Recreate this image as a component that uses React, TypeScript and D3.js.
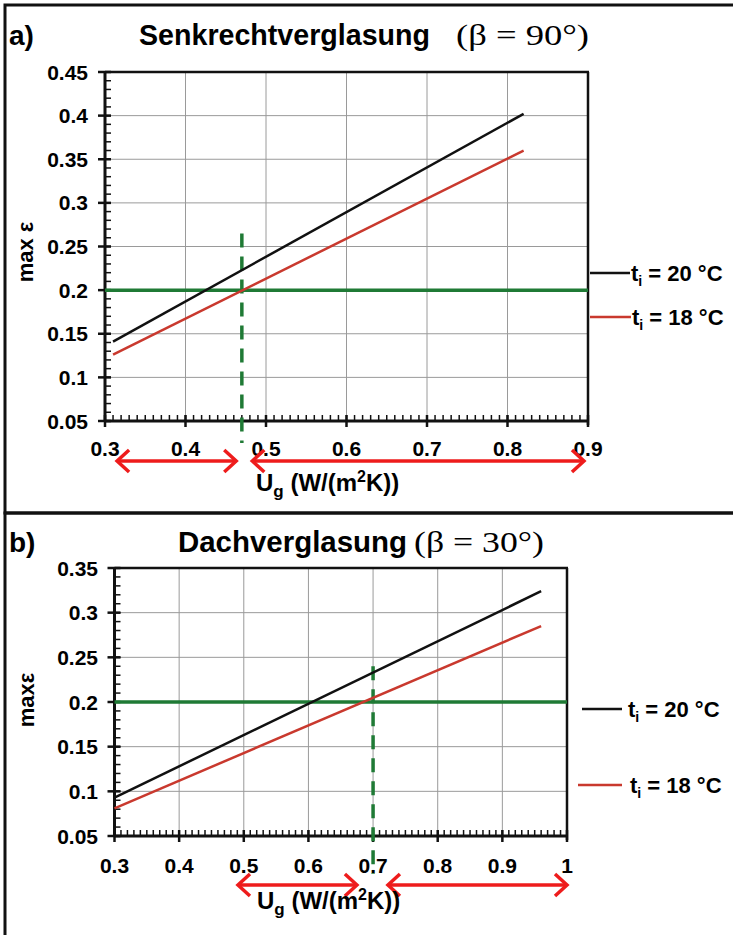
import * as d3 from 'd3'

// panel a) Senkrechtverglasung
const xTicksA = [0.3, 0.4, 0.5, 0.6, 0.7, 0.8, 0.9]
const yTicksA = [0.05, 0.1, 0.15, 0.2, 0.25, 0.3, 0.35, 0.4, 0.45]
const ti20A: [number, number][] = [[0.31, 0.141], [0.82, 0.402]]
const ti18A: [number, number][] = [[0.31, 0.126], [0.82, 0.36]]
const limitA = 0.2
const markerA = { x: 0.47, yTop: 0.265 }
const arrowsA: [number, number][] = [[0.315, 0.463], [0.483, 0.895]]

// panel b) Dachverglasung
const xTicksB = [0.3, 0.4, 0.5, 0.6, 0.7, 0.8, 0.9, 1]
const yTicksB = [0.05, 0.1, 0.15, 0.2, 0.25, 0.3, 0.35]
const ti20B: [number, number][] = [[0.3, 0.093], [0.96, 0.324]]
const ti18B: [number, number][] = [[0.3, 0.081], [0.96, 0.285]]
const limitB = 0.2
const markerB = { x: 0.7, yTop: 0.24 }
const arrowsB: [number, number][] = [[0.491, 0.675], [0.723, 1.0]]

const legendLabels = ['20', '18']

const FONT = '"Liberation Sans", Arial, sans-serif'
const SERIF = '"Liberation Serif", "Times New Roman", serif'
const RED = '#c9392e'
const GREEN = '#1f7a35'

type PanelProps = {
  top: number
  letter: string
  title: string
  titleLen: number
  beta: string
  betaLen: number
  titleX: number
  betaX: number
  xRange: [number, number]
  yRange: [number, number]
  xTicks: number[]
  yTicks: number[]
  black: [number, number][]
  red: [number, number][]
  limit: number
  marker: { x: number; yTop: number }
  markerBelow: number
  arrows: [number, number][]
  arrowY: number
  yLabel: string
  yLabelX: number
  yLabelY: number
  tickLabelRight: number
  xLabelBase: number
  xTitleX: number
  xTitleBase: number
  legend: { x1: number; x2: number; tx: number; y: number }[]
}

function Panel(p: PanelProps) {
  const xDom = [p.xTicks[0], p.xTicks[p.xTicks.length - 1]]
  const yDom = [p.yTicks[0], p.yTicks[p.yTicks.length - 1]]
  const x = d3.scaleLinear().domain(xDom).range(p.xRange)
  const y = d3.scaleLinear().domain(yDom).range(p.yRange)
  const line = d3.line<[number, number]>().x((d) => x(d[0])).y((d) => y(d[1]))
  const [x0, x1] = p.xRange
  const [y0, y1] = p.yRange
  const minorX = d3.range(Math.round(xDom[0] * 100), Math.round(xDom[1] * 100) + 1).map((v) => v / 100)
  const minorY = d3.range(Math.round(yDom[0] * 100), Math.round(yDom[1] * 100) + 1).map((v) => v / 100)

  const arrowHead = (ax: number, ay: number, dir: number) =>
    `M${ax - dir * 12},${ay - 11} L${ax},${ay} L${ax - dir * 12},${ay + 11}`

  return (
    <g>
      <text x={9} y={p.top + 41} fontFamily={FONT} fontWeight="bold" fontSize={28}>
        {p.letter}
      </text>
      <text x={p.titleX} y={p.top + 41} fontFamily={FONT} fontWeight="bold" fontSize={29}
        textLength={p.titleLen} lengthAdjust="spacingAndGlyphs">
        {p.title}
      </text>
      <text x={p.betaX} y={p.top + 41} fontFamily={SERIF} fontSize={29}
        textLength={p.betaLen} lengthAdjust="spacingAndGlyphs">
        {p.beta}
      </text>

      {/* grid */}
      {p.xTicks.slice(1, -1).map((t) => (
        <line key={'gx' + t} x1={x(t)} x2={x(t)} y1={y0} y2={y1} stroke="#9a9a9a" strokeWidth={1} />
      ))}
      {p.yTicks.slice(1, -1).map((t) => (
        <line key={'gy' + t} x1={x0} x2={x1} y1={y(t)} y2={y(t)} stroke="#9a9a9a" strokeWidth={1} />
      ))}

      {/* frame top / right */}
      <line x1={x0} x2={x1 + 1} y1={y1} y2={y1} stroke="#111" strokeWidth={2.5} />
      <line x1={x1} x2={x1} y1={y1} y2={y0 + 4} stroke="#111" strokeWidth={2.5} />

      {/* minor ticks */}
      {minorX.map((t) => (
        <line key={'mx' + t} x1={x(t)} x2={x(t)} y1={y0} y2={y0 - 6} stroke="#111" strokeWidth={1.5} />
      ))}
      {minorY.map((t) => (
        <line key={'my' + t} x1={x0} x2={x0 + 6} y1={y(t)} y2={y(t)} stroke="#111" strokeWidth={1.5} />
      ))}

      {/* axes */}
      <line x1={x0} x2={x1 + 1} y1={y0} y2={y0} stroke="#111" strokeWidth={3} />
      <line x1={x0} x2={x0} y1={y0 + 1} y2={y1 - 1} stroke="#111" strokeWidth={3} />
      {p.xTicks.map((t) => (
        <line key={'tx' + t} x1={x(t)} x2={x(t)} y1={y0 - 6} y2={y0 + 6} stroke="#111" strokeWidth={2.5} />
      ))}
      {p.yTicks.map((t) => (
        <line key={'ty' + t} x1={x0 - 7} x2={x0 + 6} y1={y(t)} y2={y(t)} stroke="#111" strokeWidth={2.5} />
      ))}

      {/* tick labels */}
      {p.yTicks.map((t) => (
        <text key={'ly' + t} x={p.tickLabelRight} y={y(t) + 7.5} textAnchor="end"
          fontFamily={FONT} fontWeight="bold" fontSize={21}>
          {String(t)}
        </text>
      ))}
      {p.xTicks.map((t) => (
        <text key={'lx' + t} x={x(t)} y={p.xLabelBase} textAnchor="middle"
          fontFamily={FONT} fontWeight="bold" fontSize={21}>
          {String(t)}
        </text>
      ))}

      {/* limit and marker */}
      <line x1={x0} x2={x1} y1={y(p.limit)} y2={y(p.limit)} stroke={GREEN} strokeWidth={3.5} />
      <line x1={x(p.marker.x)} x2={x(p.marker.x)} y1={y(p.marker.yTop)} y2={y0 + p.markerBelow}
        stroke={GREEN} strokeWidth={3.5} strokeDasharray="14,9" />

      {/* series */}
      <path d={line(p.black) ?? ''} fill="none" stroke="#111" strokeWidth={2.5} />
      <path d={line(p.red) ?? ''} fill="none" stroke={RED} strokeWidth={2.5} />

      {/* arrows */}
      {p.arrows.map(([a, b]) => (
        <g key={'ar' + a} stroke="#ee1c1c" strokeWidth={3.5} fill="none">
          <line x1={x(a)} x2={x(b)} y1={p.arrowY} y2={p.arrowY} />
          <path d={arrowHead(x(a), p.arrowY, -1)} />
          <path d={arrowHead(x(b), p.arrowY, 1)} />
        </g>
      ))}

      {/* axis titles */}
      <text x={p.xTitleX} y={p.xTitleBase} fontFamily={FONT} fontWeight="bold" fontSize={24}>
        U<tspan fontSize={17} dy={6}>g</tspan>
        <tspan dy={-6}> (W/(m</tspan>
        <tspan fontSize={16} dy={-9}>2</tspan>
        <tspan dy={9}>K))</tspan>
      </text>
      <text transform={`translate(${p.yLabelX},${p.yLabelY}) rotate(-90)`} textAnchor="middle"
        fontFamily={FONT} fontWeight="bold" fontSize={22}>
        {p.yLabel}
      </text>

      {/* legend */}
      {p.legend.map((l, i) => (
        <g key={'lg' + i}>
          <line x1={l.x1} x2={l.x2} y1={l.y} y2={l.y} stroke={i === 0 ? '#111' : RED} strokeWidth={2.5} />
          <text x={l.tx} y={l.y + 8} fontFamily={FONT} fontWeight="bold" fontSize={22}>
            t<tspan fontSize={14} dy={5}>i</tspan>
            <tspan dy={-5}>{` = ${legendLabels[i]} °C`}</tspan>
          </text>
        </g>
      ))}
    </g>
  )
}

export default function App() {
  return (
    <div>
      <style>{'body{margin:0}'}</style>
      <svg width={733} height={935} style={{ display: 'block', background: '#fff' }}>
        <Panel
          top={4}
          letter="a)"
          title="Senkrechtverglasung"
          titleLen={291}
          beta="(β = 90°)"
          betaLen={133}
          titleX={139}
          betaX={456}
          xRange={[105, 588]}
          yRange={[421, 72]}
          xTicks={xTicksA}
          yTicks={yTicksA}
          black={ti20A}
          red={ti18A}
          limit={limitA}
          marker={markerA}
          markerBelow={22}
          arrows={arrowsA}
          arrowY={461}
          yLabel="max ε"
          yLabelX={33}
          yLabelY={252}
          tickLabelRight={88}
          xLabelBase={456}
          xTitleX={256}
          xTitleBase={491}
          legend={[
            { x1: 590, x2: 630, tx: 631, y: 273 },
            { x1: 590, x2: 631, tx: 632, y: 317 },
          ]}
        />
        <Panel
          top={511}
          letter="b)"
          title="Dachverglasung"
          titleLen={229}
          beta="(β = 30°)"
          betaLen={130}
          titleX={178}
          betaX={414}
          xRange={[114.5, 567]}
          yRange={[836, 568]}
          xTicks={xTicksB}
          yTicks={yTicksB}
          black={ti20B}
          red={ti18B}
          limit={limitB}
          marker={markerB}
          markerBelow={38}
          arrows={arrowsB}
          arrowY={885}
          yLabel="maxε"
          yLabelX={34}
          yLabelY={700}
          tickLabelRight={98}
          xLabelBase={873}
          xTitleX={257}
          xTitleBase={909}
          legend={[
            { x1: 582, x2: 622, tx: 628, y: 709 },
            { x1: 578, x2: 622, tx: 630, y: 785 },
          ]}
        />
        {/* panel frames */}
        <rect x={5} y={5} width={740} height={508} fill="none" stroke="#111" strokeWidth={3} />
        <rect x={5} y={513} width={740} height={440} fill="none" stroke="#111" strokeWidth={3} />
      </svg>
    </div>
  )
}
